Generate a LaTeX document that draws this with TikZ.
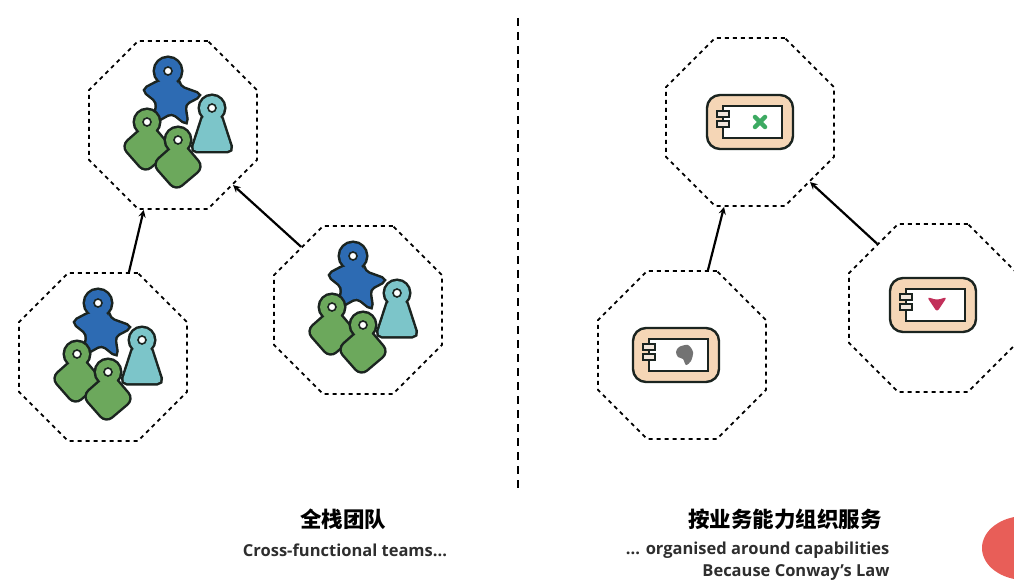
\documentclass[tikz,border=0pt]{standalone}
\usepackage{xcolor}
\usepackage{fontspec}
\setmainfont{Open Sans}
\newfontfamily\cjk{Noto Sans CJK SC}
\usetikzlibrary{arrows, shapes.geometric, positioning}

\definecolor{ink}{HTML}{1B2420}
\definecolor{teamblue}{HTML}{2D6BB3}
\definecolor{teamteal}{HTML}{7CC5C9}
\definecolor{teamgreen}{HTML}{6CA85C}
\definecolor{peach}{HTML}{F5D6B6}
\definecolor{tabfill}{HTML}{F3E7DC}
\definecolor{blotred}{HTML}{E85E58}
\definecolor{xgreen}{HTML}{3DAA62}
\definecolor{heartred}{HTML}{C2305A}

\tikzset{
    figcol/.store in=\figcol, figcol=black,
    octa/.style={draw, regular polygon, regular polygon sides=8, minimum size=182pt,
        inner sep=0pt, line width=1.8pt, dash pattern=on 4pt off 4pt},
    arr/.style={->, line width=2.2pt},
    title/.style={font=\cjk\bfseries\fontsize{21.5}{25}\selectfont, text=black},
    sub/.style={font=\bfseries\fontsize{16.5}{19}\selectfont, text=black!82},
    % people
    figstar/.pic={
        \path[fill=\figcol, draw=ink, line width=5pt, rounded corners=5pt]
            (-5,-54) circle (13pt)
            (-13,-44) -- (-30,-35) -- (-15,-23) -- (-19,-3) -- (-1,-13) -- (14,-1)
            -- (11,-21) -- (28,-30) -- (6,-38) -- (5,-45) -- cycle;
        \path[fill=\figcol, rounded corners=5pt]
            (-5,-54) circle (13pt)
            (-13,-44) -- (-30,-35) -- (-15,-23) -- (-19,-3) -- (-1,-13) -- (14,-1)
            -- (11,-21) -- (28,-30) -- (6,-38) -- (5,-45) -- cycle;
        \path[fill=white, draw=ink, line width=1.6pt] (-5,-54) circle (4pt);
    },
    figpawn/.pic={
        \path[fill=\figcol, draw=ink, line width=5pt, rounded corners=5pt]
            (0,0) circle (12pt) (-8,6) -- (-20,43) -- (20,43) -- (8,6) -- cycle;
        \path[fill=\figcol, rounded corners=5pt]
            (0,0) circle (12pt) (-8,6) -- (-20,43) -- (20,43) -- (8,6) -- cycle;
        \path[fill=white, draw=ink, line width=1.6pt] (0,0) circle (4pt);
    },
    figtag/.pic={
        \path[fill=\figcol, draw=ink, line width=5pt, rounded corners=7pt]
            (0,0) circle (12pt) (2,1) -- (-24,24) -- (-2,49) -- (24,27) -- cycle;
        \path[fill=\figcol, rounded corners=7pt]
            (0,0) circle (12pt) (2,1) -- (-24,24) -- (-2,49) -- (24,27) -- cycle;
        \path[fill=white, draw=ink, line width=1.6pt] (0,0) circle (4pt);
    },
    team/.pic={
        \pic[figcol=teamblue] at (0,0) {figstar};
        \pic[figcol=teamteal] at (39,-17) {figpawn};
        \pic[figcol=teamgreen] at (-26,-3) {figtag};
        \pic[figcol=teamgreen] at (5,15) {figtag};
    },
    % service box
    svc/.pic={
        \path[fill=peach, draw=ink, line width=2.4pt, rounded corners=13pt] (-43,-27) rectangle (43,27);
        \path[fill=white, draw=ink, line width=2pt] (-27,-16) rectangle (32,16);
        \path[fill=tabfill, draw=ink, line width=1.5pt] (-33,-11) rectangle (-21,-5) (-33,-1) rectangle (-21,5);
    },
    glyphx/.pic={
        \draw[xgreen, line width=4.5pt, line cap=round] (-5,-5) -- (5,5) (-5,5) -- (5,-5);
    },
    glyphblob/.pic={
        \fill[black!55] plot[smooth cycle] coordinates {(-6,-8) (3,-10) (8,-3) (6,6) (1,10) (-2,4) (-7,2) (-9,-3)};
    },
    glyphheart/.pic={
        \fill[heartred, rounded corners=3pt] (-10,-7) -- (0,-4) -- (10,-7) -- (0,8) -- cycle;
    },
}

\begin{document}
\begin{tikzpicture}[x=1pt, y=-1pt, >=stealth]
    \useasboundingbox (0,0) rectangle (1014,585);

    \node[octa] (teamtop) at (173,125) {};
    \node[octa] (teamleft) at (103,357) {};
    \node[octa] (teamright) at (358,310) {};
    \pic at (teamtop.center) {team};
    \pic at (teamleft.center) {team};
    \pic at (teamright.center) {team};
    \draw[arr] (teamleft.73) -- (teamtop.251);
    \draw[arr] (teamright.132) -- (teamtop.315);

    \coordinate (divtop) at (518,18);
    \coordinate (divbot) at (518,490);
    \draw[line width=1.6pt, dash pattern=on 8pt off 6pt] (divtop) -- (divbot);

    \node[octa] (svctop) at (750,122) {};
    \node[octa] (svcleft) at (682,355) {};
    \node[octa] (svcright) at (933,308) {};
    \pic at (svctop.center) {svc};
    \pic at ([xshift=10pt]svctop.center) {glyphx};
    \pic at ([xshift=-6pt]svcleft.center) {svc};
    \pic at ([xshift=3pt]svcleft.center) {glyphblob};
    \pic at ([yshift=3pt]svcright.center) {svc};
    \pic at ([xshift=4pt, yshift=4pt]svcright.center) {glyphheart};
    \draw[arr] (svcleft.73) -- (svctop.253);
    \draw[arr] (svcright.131) -- (svctop.315);

    \node[title] (teamhead) at (343,519) {全栈团队};
    \node[sub] (teamnote) at (345,550) {Cross-functional teams...};
    \node[title] (svchead) at (785,519) {按业务能力组织服务};
    \node[sub, anchor=east] (svcnote) at (893,550) {... organised around capabilities};
    \node[sub, anchor=east] (svclaw) at (893,573) {Because Conway's Law};

    \begin{scope}
        \clip (0,0) rectangle (1014,585);
        \fill[blotred] (1025,548) ellipse (43pt and 32pt);
    \end{scope}
\end{tikzpicture}
\end{document}
